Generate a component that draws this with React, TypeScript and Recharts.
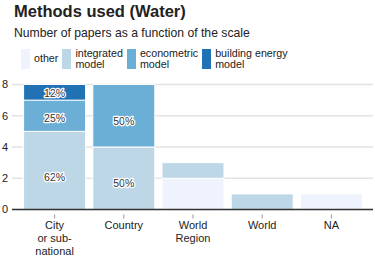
import React from "react";
import { BarChart, Bar, XAxis, YAxis, CartesianGrid, LabelList } from "recharts";

const categories = ["City\nor sub-\nnational", "Country", "World\nRegion", "World", "NA"];
const other = [0, 0, 2, 0, 1];
const integrated = [5, 4, 1, 1, 0];
const econometric = [2, 4, 0, 0, 0];
const buildingEnergy = [1, 0, 0, 0, 0];
const yTicks = [0, 2, 4, 6, 8];

const SERIES = [
  { key: "other", name: "other", color: "#eff3fd" },
  { key: "integrated", name: "integrated\nmodel", color: "#bdd7e7" },
  { key: "econometric", name: "econometric\nmodel", color: "#6baed6" },
  { key: "building", name: "building energy\nmodel", color: "#2171b5" },
];

const data = categories.map((c, i) => ({
  cat: c,
  other: other[i],
  integrated: integrated[i],
  econometric: econometric[i],
  building: buildingEnergy[i],
  total: other[i] + integrated[i] + econometric[i] + buildingEnergy[i],
}));

const FONT = "'Liberation Sans', Arial, sans-serif";

function CatTick(props: any) {
  const { x, y, payload } = props;
  const lines = String(payload.value).split("\n");
  return (
    <g>
      <line x1={x} x2={x} y1={y + 5} y2={y + 9} stroke="#999" />
      {lines.map((l, i) => (
        <text key={i} x={x} y={y + 19.5 + i * 13} textAnchor="middle" fontSize={11} fill="#222" fontFamily={FONT}>
          {l}
        </text>
      ))}
    </g>
  );
}

function makePctLabel(key: string) {
  return (props: any) => {
    const { x, y, width, height, index } = props;
    const d = data[index];
    const v = (d as any)[key];
    if (!v || d.total < 4) return null;
    const pct = Math.floor((v / d.total) * 100);
    return (
      <text
        x={x + width / 2}
        y={y + height * 0.6}
        textAnchor="middle"
        dominantBaseline="middle"
        fontSize={10.5}
        fontFamily={FONT}
        fill="#333"
        stroke="#fff"
        strokeWidth={2.5}
        paintOrder="stroke"
        strokeLinejoin="round"
      >
        {pct}%
      </text>
    );
  };
}

function Legend() {
  return (
    <div style={{ position: "absolute", left: 21, top: 48, display: "flex", gap: 4, fontFamily: FONT, fontSize: 10.7, color: "#222" }}>
      {SERIES.map((s) => (
        <div key={s.key} style={{ display: "flex", alignItems: "center" }}>
          <div style={{ width: 9, height: 20, background: s.color, marginRight: 4 }} />
          <div style={{ whiteSpace: "pre", lineHeight: "10.5px" }}>{s.name}</div>
        </div>
      ))}
    </div>
  );
}

export default function App() {
  return (
    <div style={{ position: "absolute", left: 0, top: 0, width: 375, height: 256, background: "#fff", fontFamily: FONT }}>
      <div style={{ position: "absolute", left: 14, top: 1, fontSize: 16.5, lineHeight: "20px", fontWeight: "bold", color: "#222" }}>
        Methods used (Water)
      </div>
      <div style={{ position: "absolute", left: 14, top: 25, fontSize: 12.2, lineHeight: "16px", color: "#222" }}>
        Number of papers as a function of the scale
      </div>
      <Legend />
      <div style={{ position: "absolute", left: 0, top: 0 }}>
        <BarChart width={375} height={256} data={data} margin={{ top: 84.5, right: 2, left: 0, bottom: 0 }} barCategoryGap={3.6}>
          <CartesianGrid vertical={false} stroke="#e3e3e3" strokeWidth={1.5} />
          <XAxis
            dataKey="cat"
            interval={0}
            padding={{ left: 8, right: 7 }}
            axisLine={{ stroke: "#333", strokeWidth: 1.5 }}
            tickLine={false}
            tickSize={0}
            tickMargin={0}
            tick={<CatTick />}
            height={46.5}
          />
          <YAxis
            domain={[0, 8]}
            ticks={yTicks}
            interval={0}
            width={12}
            axisLine={false}
            tickLine={false}
            tickSize={0}
            tickMargin={4}
            tick={{ fontSize: 11, fill: "#222", fontFamily: FONT }}
          />
          {SERIES.map((s) => (
            <Bar key={s.key} dataKey={s.key} stackId="a" fill={s.color} stroke="#fff" strokeWidth={1} isAnimationActive={false}>
              <LabelList dataKey={s.key} content={makePctLabel(s.key)} />
            </Bar>
          ))}
        </BarChart>
      </div>
    </div>
  );
}
